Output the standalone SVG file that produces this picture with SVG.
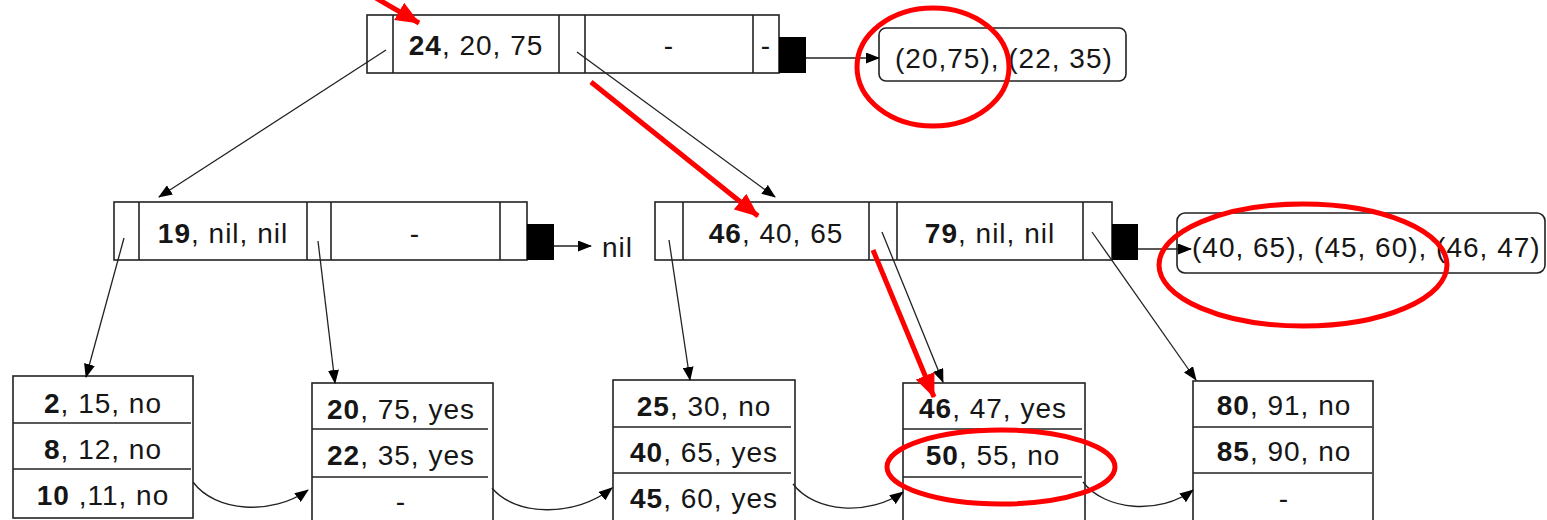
<svg xmlns="http://www.w3.org/2000/svg" width="1547" height="520" viewBox="0 0 1547 520">
<style>
.box{fill:#fff;stroke:#222;stroke-width:1.6}
.div{stroke:#222;stroke-width:1.6}
.sq{fill:#000}
.t{font-family:"Liberation Sans",Arial,sans-serif;font-size:28px;fill:#161616;letter-spacing:1px}
.c{text-anchor:middle}
.b{font-weight:bold}
.conn{stroke:#222;stroke-width:1.3;fill:none;marker-end:url(#ah)}
.red{stroke:#f00;stroke-width:5;fill:none}
.redarr{stroke:#f00;stroke-width:5;fill:none;marker-end:url(#rh)}
</style>
<defs>
<marker id="ah" markerUnits="userSpaceOnUse" markerWidth="14" markerHeight="11" refX="13" refY="5.5" orient="auto" viewBox="0 0 14 11">
<path d="M0,0 L14,5.5 L0,11 z" fill="#000"/>
</marker>
<marker id="rh" markerUnits="userSpaceOnUse" markerWidth="24" markerHeight="20" refX="23" refY="10" orient="auto" viewBox="0 0 24 20">
<path d="M0,0 L24,10 L0,20 z" fill="#f00"/>
</marker>
</defs>
<rect width="1547" height="520" fill="#fff"/>

<g id="root">
<rect class="box" x="367" y="15" width="412" height="58"/>
<line class="div" x1="393" y1="15" x2="393" y2="73"/>
<line class="div" x1="559" y1="15" x2="559" y2="73"/>
<line class="div" x1="585" y1="15" x2="585" y2="73"/>
<line class="div" x1="753" y1="15" x2="753" y2="73"/>
<text class="t c" x="476" y="55"><tspan class="b">24</tspan>, 20, 75</text>
<text class="t c" x="669" y="55">-</text>
<text class="t c" x="766" y="55">-</text>
<rect class="sq" x="779" y="37" width="27" height="36"/>
</g>

<g id="list-root">
<rect class="box" x="879" y="28" width="247" height="53" rx="7"/>
<text class="t" x="895" y="68">(20,75), (22, 35)</text>
</g>

<g id="mid-left">
<rect class="box" x="114" y="202" width="413" height="58"/>
<line class="div" x1="139" y1="202" x2="139" y2="260"/>
<line class="div" x1="307" y1="202" x2="307" y2="260"/>
<line class="div" x1="331" y1="202" x2="331" y2="260"/>
<line class="div" x1="500" y1="202" x2="500" y2="260"/>
<text class="t c" x="223" y="243"><tspan class="b">19</tspan>, nil, nil</text>
<text class="t c" x="415" y="243">-</text>
<rect class="sq" x="527" y="224" width="27" height="36"/>
</g>

<g id="nil-label">
<text class="t" x="602" y="257">nil</text>
</g>

<g id="mid-right">
<rect class="box" x="655" y="202" width="457" height="58"/>
<line class="div" x1="683" y1="202" x2="683" y2="260"/>
<line class="div" x1="869" y1="202" x2="869" y2="260"/>
<line class="div" x1="897" y1="202" x2="897" y2="260"/>
<line class="div" x1="1083" y1="202" x2="1083" y2="260"/>
<text class="t c" x="776" y="243"><tspan class="b">46</tspan>, 40, 65</text>
<text class="t c" x="990" y="243"><tspan class="b">79</tspan>, nil, nil</text>
<rect class="sq" x="1112" y="224" width="26" height="36"/>
</g>

<g id="list-mid">
<rect class="box" x="1177" y="213" width="368" height="60" rx="8"/>
<text class="t" x="1192" y="257">(40, 65), (45, 60), (46, 47)</text>
</g>

<g id="leaf1">
<rect class="box" x="13" y="376" width="180" height="142"/>
<line class="div" x1="13" y1="423" x2="191" y2="423"/>
<line class="div" x1="13" y1="469" x2="191" y2="469"/>
<text class="t c" x="103" y="413"><tspan class="b">2</tspan>, 15, no</text>
<text class="t c" x="103" y="459"><tspan class="b">8</tspan>, 12, no</text>
<text class="t c" x="103" y="505"><tspan class="b">10</tspan> ,11, no</text>
</g>

<g id="leaf2">
<rect class="box" x="312" y="383" width="181" height="160"/>
<line class="div" x1="312" y1="429" x2="488" y2="429"/>
<line class="div" x1="312" y1="477" x2="488" y2="477"/>
<text class="t c" x="401" y="419"><tspan class="b">20</tspan>, 75, yes</text>
<text class="t c" x="401" y="465"><tspan class="b">22</tspan>, 35, yes</text>
<text class="t c" x="401" y="511">-</text>
</g>

<g id="leaf3">
<rect class="box" x="613" y="380" width="182" height="160"/>
<line class="div" x1="613" y1="427" x2="791" y2="427"/>
<line class="div" x1="613" y1="473" x2="791" y2="473"/>
<text class="t c" x="704" y="416"><tspan class="b">25</tspan>, 30, no</text>
<text class="t c" x="704" y="462"><tspan class="b">40</tspan>, 65, yes</text>
<text class="t c" x="704" y="508"><tspan class="b">45</tspan>, 60, yes</text>
</g>

<g id="leaf4">
<rect class="box" x="903" y="383" width="182" height="160"/>
<line class="div" x1="903" y1="429" x2="1082" y2="429"/>
<line class="div" x1="903" y1="477" x2="1082" y2="477"/>
<text class="t c" x="993" y="418"><tspan class="b">46</tspan>, 47, yes</text>
<text class="t c" x="993" y="465"><tspan class="b">50</tspan>, 55, no</text>
<text class="t c" x="993" y="511">-</text>
</g>

<g id="leaf5">
<rect class="box" x="1193" y="381" width="180" height="160"/>
<line class="div" x1="1193" y1="427" x2="1372" y2="427"/>
<line class="div" x1="1193" y1="473" x2="1372" y2="473"/>
<text class="t c" x="1284" y="415"><tspan class="b">80</tspan>, 91, no</text>
<text class="t c" x="1284" y="461"><tspan class="b">85</tspan>, 90, no</text>
<text class="t c" x="1284" y="508">-</text>
</g>

<g id="connectors">
<line class="conn" x1="806" y1="58" x2="879" y2="58"/>
<line class="conn" x1="554" y1="246" x2="591" y2="246"/>
<line class="conn" x1="1138" y1="249" x2="1191" y2="249"/>
<line class="conn" x1="386" y1="50" x2="159" y2="197"/>
<line class="conn" x1="577" y1="52" x2="775" y2="197"/>
<line class="conn" x1="124" y1="238" x2="86" y2="377"/>
<line class="conn" x1="318" y1="241" x2="335" y2="383"/>
<line class="conn" x1="669" y1="240" x2="690" y2="380"/>
<line class="conn" x1="882" y1="232" x2="943" y2="382"/>
<line class="conn" x1="1092" y1="232" x2="1196" y2="380"/>
<path class="conn" d="M193,482 C215,512 272,516 308,490"/>
<path class="conn" d="M492,488 C515,516 575,518 612,488"/>
<path class="conn" d="M793,484 C815,513 870,516 903,492"/>
<path class="conn" d="M1083,482 C1105,511 1160,515 1193,490"/>
</g>

<g id="annotations">
<line class="redarr" x1="376" y1="-2" x2="419" y2="23"/>
<line class="redarr" x1="591" y1="82" x2="758" y2="216"/>
<line class="redarr" x1="873" y1="250" x2="934" y2="397"/>
<ellipse class="red" cx="933" cy="67" rx="76" ry="59"/>
<ellipse class="red" cx="1303" cy="265" rx="144" ry="61"/>
<ellipse class="red" cx="1001" cy="467" rx="114" ry="37"/>
</g>
</svg>
